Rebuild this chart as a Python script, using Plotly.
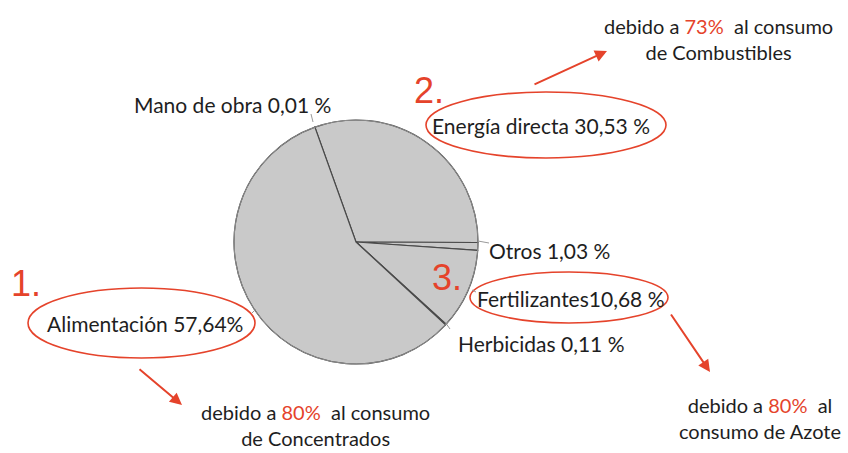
import plotly.graph_objects as go

W, H = 848, 453

categories = ["Mano de obra", "Energía directa", "Otros", "Fertilizantes", "Herbicidas", "Alimentación"]
values = [0.01, 30.53, 1.03, 10.68, 0.11, 57.64]
label_texts = ["Mano de obra 0,01 %", "Energía directa 30,53 %", "Otros 1,03 %",
               "Fertilizantes10,68 %", "Herbicidas 0,11 %", "Alimentación 57,64%"]
RED = "#e5432b"
FONT = "Lato, 'Open Sans', sans-serif"

def px(x):
    return x / W

def py(y):
    return 1 - y / H

cx, cy, r = 356, 242, 122

fig = go.Figure()
fig.add_trace(go.Pie(
    labels=categories, values=values, sort=False, direction="clockwise",
    rotation=-19.7, textinfo="none", hoverinfo="label+percent",
    marker=dict(colors=["#c9c9c9"] * len(values), line=dict(color="#4a4a4a", width=1.2)),
    domain=dict(x=[px(cx - r), px(cx + r)], y=[py(cy + r), py(cy - r)]),
    showlegend=False,
))

shapes = []
# outer rim lighter
shapes.append(dict(type="circle", xref="paper", yref="paper",
                   x0=px(cx - r), x1=px(cx + r), y0=py(cy + r), y1=py(cy - r),
                   line=dict(color="#8c8c8c", width=1)))
# ellipses
for (x0, y0, x1, y1) in [(426, 92, 666, 158), (470, 272, 668, 323), (28, 288, 255, 358)]:
    shapes.append(dict(type="circle", xref="paper", yref="paper",
                       x0=px(x0), x1=px(x1), y0=py(y1), y1=py(y0),
                       line=dict(color=RED, width=1.6)))
# small leader ticks
for (x0, y0, x1, y1) in [(313, 122, 311, 114), (478, 241, 489, 243), (445, 322, 450, 329),
                         (252, 313, 256, 309), (472, 290, 476, 292)]:
    shapes.append(dict(type="line", xref="paper", yref="paper",
                       x0=px(x0), x1=px(x1), y0=py(y0), y1=py(y1),
                       line=dict(color="#9a9a9a", width=1)))

ann = []
def txt(t, x, y, size=21, color="#1e1e1e", family=FONT):
    ann.append(dict(text=t, x=px(x), y=py(y), xref="paper", yref="paper",
                    xanchor="center", yanchor="middle", showarrow=False, align="center",
                    font=dict(size=size, color=color, family=family)))

label_pos = [(232, 104), (541, 126), (549, 250), (570, 298), (541, 343), (145, 323)]
for t, (x, y) in zip(label_texts, label_pos):
    txt(t, x, y)

NUMF = "'Liberation Sans', Arial, sans-serif"
txt("2.", 429, 90, size=36, color=RED, family=NUMF)
txt("3.", 447, 277, size=36, color=RED, family=NUMF)
txt("1.", 26, 283, size=36, color=RED, family=NUMF)

def red(s):
    return f"<span style='color:{RED}'>{s}</span>"

txt("debido a " + red("73%") + "&nbsp; al consumo<br>de Combustibles", 718, 39, size=20)
txt("debido a " + red("80%") + "&nbsp; al consumo<br>de Concentrados", 315, 425, size=20)
txt("debido a " + red("80%") + "&nbsp; al<br>consumo de Azote", 760, 418, size=20)

# arrows
for (tx, ty, hx, hy) in [(533, 85, 607, 51), (138, 368, 182, 405), (670, 313, 710, 372)]:
    ann.append(dict(x=px(hx), y=py(hy), ax=tx - hx, ay=ty - hy, xref="paper", yref="paper",
                    axref="pixel", ayref="pixel", showarrow=True, arrowhead=2,
                    arrowsize=1.2, arrowwidth=2, arrowcolor=RED, text=""))

fig.update_layout(width=W, height=H, margin=dict(l=0, r=0, t=0, b=0),
                  paper_bgcolor="white", plot_bgcolor="white",
                  shapes=shapes, annotations=ann)
fig.write_html("out.html", config={"displayModeBar": False},
               post_script="document.body.style.margin='0';")
